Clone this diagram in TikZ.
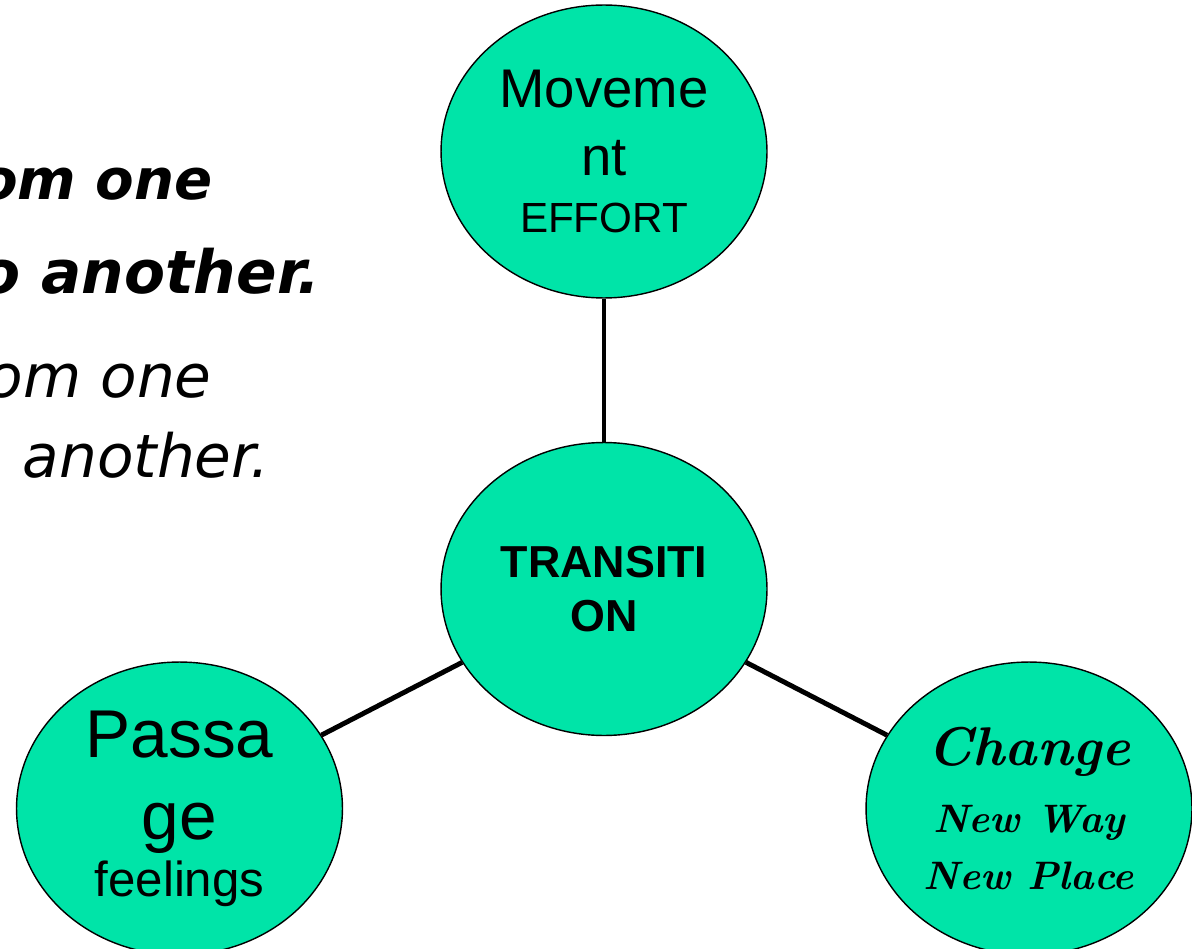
\documentclass[tikz,border=0pt]{standalone}
\usepackage{fontspec}
\usetikzlibrary{shapes.geometric}
\newfontfamily\ovalfont{Liberation Sans}
\newfontfamily\sidefont{DejaVu Sans}
\definecolor{ovalgreen}{RGB}{0,228,168}
\tikzset{
    topic-oval/.style = {draw=black, fill=ovalgreen, line width=0.8pt, ellipse, inner sep=0pt, minimum width=6.52cm, minimum height=5.86cm, align=center},
    topic-link/.style = {draw=black, line width=2.8pt},
    side-text/.style = {anchor=base east, inner sep=0pt, font=\sidefont\fontsize{34}{40}\selectfont},
    side-bold/.style = {side-text, font=\sidefont\bfseries\itshape\fontsize{#1}{38}\selectfont},
}

\begin{document}
\begin{tikzpicture}[x=0.02cm, y=0.02cm]
\useasboundingbox (0,0) rectangle (1192,948);
\clip (0,0) rectangle (1192,948);
\node[side-bold=32] (from-bold) at (213,748) {om one};
\node[side-bold=34] (to-bold) at (321,655) {o another.};
\node[side-text] (from-plain) at (212,551) {\itshape om one};
\node[side-text] (to-plain) at (270,471) {\itshape another.};

\node[topic-oval, font=\ovalfont\fontsize{31}{38.5}\selectfont] (movement) at (604,796.5) {Moveme\\nt\\[-6.2pt]\fontsize{24}{29}\selectfont EFFORT};
\node[topic-oval, font=\ovalfont\bfseries\fontsize{25.5}{30.6}\selectfont] (transition) at (604,359) {TRANSITI\\ON};
\node[topic-oval, font=\ovalfont\fontsize{38.5}{47}\selectfont] (passage) at (179.5,139.5) {Passa\\ge\\[-14.7pt]\fontsize{28}{34}\selectfont feelings};
\node[topic-oval, font=\bfseries\itshape\fontsize{31}{38}\selectfont] (change) at (1029,139.5) {Change\\\fontsize{22.6}{27}\selectfont New Way\\[-5.7pt]\fontsize{22.6}{27}\selectfont New Place};

\draw[topic-link] (movement) -- (transition);
\draw[topic-link] (transition) -- (passage);
\draw[topic-link] (transition) -- (change);
\end{tikzpicture}
\end{document}
